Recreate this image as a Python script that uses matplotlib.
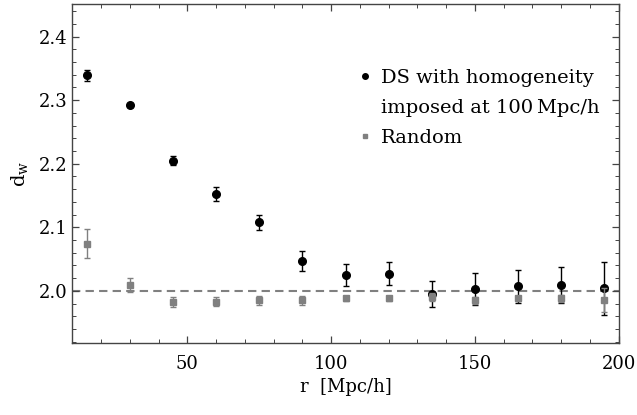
import numpy as np
import matplotlib
matplotlib.use('Agg')
from matplotlib import pyplot as plt
from matplotlib.lines import Line2D
from matplotlib.ticker import MultipleLocator

plt.rcParams['font.family'] = ['DejaVu Serif']
plt.rcParams['mathtext.fontset'] = 'dejavuserif'

r = [15, 30, 45, 60, 75, 90, 105, 120, 135, 150, 165, 180, 195]

ds = [2.339, 2.293, 2.205, 2.152, 2.108, 2.047, 2.025, 2.027, 1.995, 2.003, 2.007, 2.009, 2.004]
ds_err = [0.009, 0.003, 0.007, 0.011, 0.012, 0.015, 0.017, 0.018, 0.020, 0.025, 0.026, 0.028, 0.042]

rnd = [2.074, 2.010, 1.983, 1.983, 1.985, 1.985, 1.988, 1.988, 1.990, 1.985, 1.988, 1.988, 1.985]
rnd_err = [0.023, 0.011, 0.008, 0.007, 0.007, 0.007, 0.004, 0.004, 0.006, 0.005, 0.004, 0.006, 0.019]

# the DS label runs over two lines, the second one gets an empty handle
ds_label = ['DS with homogeneity', 'imposed at 100\u2009Mpc/h']
rnd_label = 'Random'

frame_col = '#444444'
grey = '#808080'

fig = plt.figure(figsize=(6.37, 4.15), dpi=100)
ax = fig.add_axes([0.1135, 0.1735, 0.8578, 0.8165])

ax.axhline(2.0, color=grey, lw=1.5, ls=(0, (4, 2.5)), zorder=1)

ax.errorbar(r, ds, yerr=ds_err, fmt='o', color='black', ms=5.5,
            elinewidth=1.0, capsize=2, capthick=1.0, zorder=3)
ax.errorbar(r, rnd, yerr=rnd_err, fmt='s', color=grey, ms=4.5,
            elinewidth=1.0, capsize=2, capthick=1.0, zorder=4)

ax.set_xlim(10, 200)
ax.set_ylim(1.918, 2.451)
ax.xaxis.set_major_locator(MultipleLocator(50))
ax.xaxis.set_minor_locator(MultipleLocator(10))
ax.yaxis.set_major_locator(MultipleLocator(0.1))
ax.yaxis.set_minor_locator(MultipleLocator(0.02))
ax.yaxis.set_major_formatter(plt.FuncFormatter(lambda v, p: '%.1f' % v))

ax.tick_params(which='both', direction='in', top=True, right=True,
               color=frame_col, labelsize=13)
ax.tick_params(which='major', length=5, width=0.9)
ax.tick_params(which='minor', length=3, width=0.7)
ax.tick_params(axis='x', pad=9)
for s in ax.spines.values():
    s.set_color(frame_col)
    s.set_linewidth(1.0)

ax.set_xlabel('r  [Mpc/h]', fontsize=13, labelpad=3)
ax.set_ylabel(r'd$_\mathrm{w}$', fontsize=14, labelpad=6)

handles = [
    Line2D([], [], ls='none', marker='o', color='black', ms=4),
    Line2D([], [], ls='none', marker='none'),
    Line2D([], [], ls='none', marker='s', color=grey, ms=3.5),
]
ax.legend(handles, ds_label + [rnd_label], loc='upper left',
          bbox_to_anchor=(0.487, 0.86), frameon=False, fontsize=14,
          handlelength=0.95, handletextpad=0.35, labelspacing=0.62)

fig.savefig('out.png', dpi=100)
